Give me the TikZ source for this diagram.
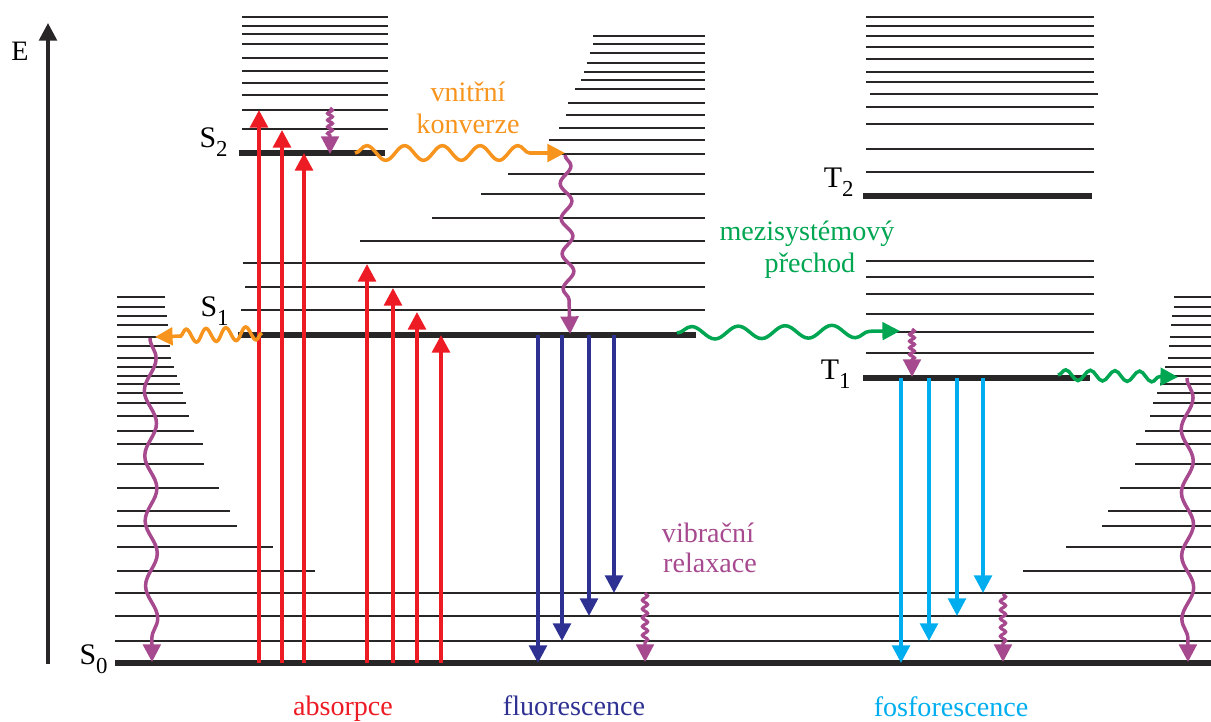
\documentclass[tikz,border=0pt]{standalone}
\usepackage{fontspec}
\setmainfont{Liberation Serif}
\usetikzlibrary{arrows.meta,decorations.pathmorphing}

\definecolor{levgray}{RGB}{40,38,38}
\definecolor{absred}{RGB}{237,28,36}
\definecolor{icorange}{RGB}{247,148,29}
\definecolor{iscgreen}{RGB}{0,166,81}
\definecolor{vrpurple}{RGB}{166,73,142}
\definecolor{fluonavy}{RGB}{46,49,146}
\definecolor{phoscyan}{RGB}{0,174,239}

\newcommand{\lvlname}[2]{#1\raisebox{-0.3em}{\fontsize{13}{15}\selectfont #2}}

\tikzset{
  level/.style={draw=levgray, line width=1.15pt},
  state/.style={draw=levgray, line width=3.6pt},
  tip/.style={-{Triangle[width=10pt,length=10pt]}},
  absorb/.style={tip, draw=absred, line width=2.2pt},
  fluo/.style={tip, draw=fluonavy, line width=2.1pt},
  phos/.style={tip, draw=phoscyan, line width=2.1pt},
  squig/.style n args={3}{tip, line width=2pt, decorate,
    decoration={snake, segment length=#1, amplitude=#2, pre length=0pt, post length=#3}},
  lbl/.style={font=\fontsize{16}{19}\selectfont, anchor=base, inner sep=0pt},
  lvllbl/.style={font=\fontsize{17}{20}\selectfont, anchor=base east, inner sep=0pt}
}

\begin{document}
\begin{tikzpicture}[x=0.02cm, y=-0.02cm]
\useasboundingbox (0,0) rectangle (1211,722);

% Heights of the electronic states
\def\sZero{663}
\def\sOne{335}
\def\sTwo{153}
\def\tOne{378}
\def\tTwo{196}

% Energy axis
\draw[tip, draw=levgray, line width=2pt] (48,664) -- (48,23);
\node[lbl] (lE) at (20,61) {E};

% Vibrational levels of S2
\foreach \y in {17,26,34,44,58,71,83,95,110,129} {
  \draw[level] (242,\y) -- (388,\y);
}

% Vibrational levels of S1 (staircase)
\foreach \y/\a in {36/593,44/593,53/590,63/587,72/584,80/581,89/575,103/568,
                   115/566,128/559,140/549,154/535,174/508,194/481,218/432,
                   241/360,263/243,287/245,310/241} {
  \draw[level] (\a,\y) -- (705,\y);
}

% Vibrational levels of T2 and T1
\foreach \y in {17,26,36,47,59,72,82,107,124,149,172,261,277,294,314,332,353} {
  \draw[level] (866,\y) -- (1094,\y);
}
\draw[level] (870,94) -- (1098,94);

% Vibrational levels of S0 (left and right)
\foreach \y/\a/\b in {297/165/1174,307/165/1174,316/167/1172,325/168/1171,
                      337/170/1170,346/170/1169,358/171/1168,367/174/1165,
                      376/177/1163,384/180/1160,393/183/1157,403/186/1153,
                      416/189/1150,431/194/1145,444/203/1136,464/204/1135,
                      488/219/1120,511/230/1108,526/237/1102,547/273/1066,
                      571/315/1023} {
  \draw[level] (117,\y) -- (\a,\y);
  \draw[level] (\b,\y) -- (1211,\y);
}
\foreach \y in {593,616,641} {
  \draw[level] (115,\y) -- (1211,\y);
}

% Electronic states
\draw[state] (115,\sZero) -- (1211,\sZero);
\draw[state] (238,\sOne) -- (696,\sOne);
\draw[state] (239,\sTwo) -- (385,\sTwo);
\draw[state] (863,\tOne) -- (1090,\tOne);
\draw[state] (863,\tTwo) -- (1092,\tTwo);

\node[lvllbl] (lS0) at (108,665) {\lvlname{S}{0}};
\node[lvllbl] (lS1) at (229,317) {\lvlname{S}{1}};
\node[lvllbl] (lS2) at (228,148) {\lvlname{S}{2}};
\node[lvllbl] (lT1) at (851,380) {\lvlname{T}{1}};
\node[lvllbl] (lT2) at (854,188) {\lvlname{T}{2}};

% Absorption
\foreach \x/\y in {259/110,282/130,304/\sTwo,367/264,393/288,417/312,441/\sOne} {
  \draw[absorb] (\x,\sZero) -- (\x,\y);
}

% Fluorescence
\foreach \x/\y in {538/663,562/641,589/616,614/593} {
  \draw[fluo] (\x,\sOne) -- (\x,\y);
}

% Phosphorescence
\foreach \x/\y in {901/663,929/641,957/616,983/593} {
  \draw[phos] (\x,\tOne) -- (\x,\y);
}

% Internal conversion
\draw[squig={21.5pt}{4.2pt}{14pt}, draw=icorange] (355,153) -- (565,153);
\draw[squig={11.3pt}{3.8pt}{10pt}, draw=icorange] (262,333) -- (155,337);

% Intersystem crossing
\draw[squig={26.6pt}{3.6pt}{16pt}, draw=iscgreen] (677,333) -- (900,331);
\draw[squig={14pt}{3pt}{10pt}, draw=iscgreen] (1058,375) -- (1178,377);

% Vibrational relaxation
\draw[squig={20pt}{3.2pt}{10pt}, draw=vrpurple] (565,155) -- (570,334);
\draw[squig={37pt}{3.4pt}{10pt}, draw=vrpurple] (150,338) -- (152,662);
\draw[squig={36pt}{3.4pt}{10pt}, draw=vrpurple] (1187,378) -- (1188,662);
\draw[squig={3.8pt}{1.4pt}{9pt}, draw=vrpurple, line width=1.8pt] (330,108) -- (330,154);
\draw[squig={3.8pt}{1.4pt}{9pt}, draw=vrpurple, line width=1.8pt] (912,329) -- (912,377);
\draw[squig={5pt}{1.5pt}{9pt}, draw=vrpurple, line width=1.8pt] (645,593) -- (645,662);
\draw[squig={5pt}{1.5pt}{9pt}, draw=vrpurple, line width=1.8pt] (1003,594) -- (1003,662);

% Labels
\node[lbl, text=icorange] (lIC1) at (468,102) {vnitřní};
\node[lbl, text=icorange] (lIC2) at (468,134) {konverze};
\node[lbl, text=iscgreen] (lISC1) at (807,241) {mezisystémový};
\node[lbl, text=iscgreen] (lISC2) at (810,273) {přechod};
\node[lbl, text=vrpurple] (lVR1) at (708,543) {vibrační};
\node[lbl, text=vrpurple] (lVR2) at (710,573) {relaxace};
\node[lbl, text=absred] (lAbs) at (343,716) {absorpce};
\node[lbl, text=fluonavy] (lFluo) at (574,716) {fluorescence};
\node[lbl, text=phoscyan] (lPhos) at (951,717) {fosforescence};

\end{tikzpicture}
\end{document}
